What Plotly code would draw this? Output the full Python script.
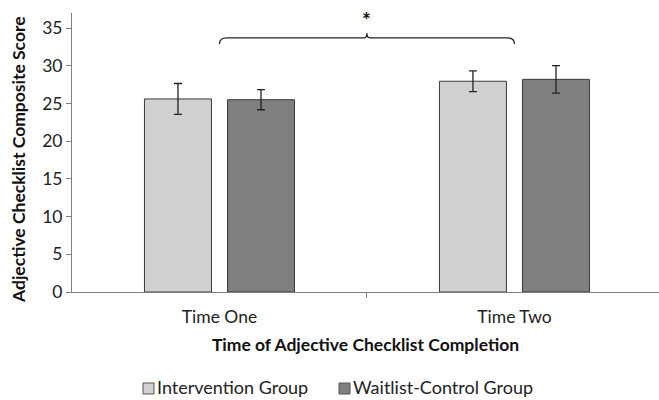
import plotly.graph_objects as go

# Group means and standard errors at each measurement time
categories = ["Time One", "Time Two"]
intervention = [25.6, 27.95]
intervention_err = [2.05, 1.37]
waitlist = [25.5, 28.2]
waitlist_err = [1.33, 1.83]
y_ticks = [0, 5, 10, 15, 20, 25, 30, 35]

group_names = ["Intervention Group", "Waitlist-Control Group"]
group_colors = ["#d0d0d0", "#7f7f7f"]

x_pos = list(range(len(categories)))
FONT = "Lato"
OUTLINE = "#3a3a3a"

W, H = 659, 400
M_L, M_R, M_T, M_B = 72, 0, 13, 108
PW, PH = W - M_L - M_R, H - M_T - M_B


def px_to_paper(px, py):
    return (px - M_L) / PW, (H - M_B - py) / PH


fig = go.Figure()
for name, color, vals, errs in [
    (group_names[0], group_colors[0], intervention, intervention_err),
    (group_names[1], group_colors[1], waitlist, waitlist_err),
]:
    fig.add_trace(go.Bar(
        x=x_pos, y=vals, name=name, showlegend=False,
        marker=dict(color=color, line=dict(color=OUTLINE, width=1)),
        error_y=dict(type="data", array=errs, color="#222222", thickness=1.3, width=4),
    ))

# Significance bracket spanning the two time points
y_br = 33.7
path = (f"M 0,{y_br-0.8} Q 0,{y_br} 0.025,{y_br} "
        f"L 0.49,{y_br} Q 0.5,{y_br} 0.5,{y_br+0.6} Q 0.5,{y_br} 0.51,{y_br} "
        f"L 0.975,{y_br} Q 1,{y_br} 1,{y_br-0.8}")
fig.add_shape(type="path", path=path, xref="x", yref="y",
              line=dict(color="#222222", width=1.3))
fig.add_annotation(x=0.5, y=36.2, text="<b>*</b>", showarrow=False, xref="x", yref="y",
                   font=dict(family=FONT, size=21, color="#111111"))

# Y-axis title
tx, ty = px_to_paper(18, 160)
fig.add_annotation(x=tx, y=ty, xref="paper", yref="paper", showarrow=False,
                   text="<b>Adjective Checklist Composite Score</b>", textangle=-90,
                   xanchor="center", yanchor="middle",
                   font=dict(family=FONT, size=17.5, color="#111111"))

# Legend row below the axis title
legend_boxes = [143, 339]
for name, color, bx in zip(group_names, group_colors, legend_boxes):
    x0, y0 = px_to_paper(bx, 394)
    x1, y1 = px_to_paper(bx + 11, 383)
    fig.add_shape(type="rect", xref="paper", yref="paper", x0=x0, y0=y0, x1=x1, y1=y1,
                  fillcolor=color, line=dict(color="#555555", width=1))
    lx, ly = px_to_paper(bx + 13, 387)
    fig.add_annotation(x=lx, y=ly, xref="paper", yref="paper", showarrow=False,
                       text=name, xanchor="left", yanchor="middle", borderpad=0,
                       font=dict(family=FONT, size=18, color="#222222"))

fig.update_layout(
    width=W, height=H,
    margin=dict(l=M_L, r=M_R, t=M_T, b=M_B, autoexpand=False),
    paper_bgcolor="white", plot_bgcolor="white",
    barmode="group", bargap=0.437, bargroupgap=0.193,
    font=dict(family=FONT, color="#222222"),
    showlegend=False,
)
fig.update_xaxes(
    range=[-0.5, 1.49], automargin=False,
    tickvals=x_pos, ticktext=categories, ticks="",
    tickfont=dict(family=FONT, size=17.5, color="#222222"),
    ticklabelstandoff=9,
    minor=dict(tickvals=[0.5], ticks="outside", ticklen=5, tickcolor="#7f7f7f", tickwidth=1),
    showline=True, linecolor="#7f7f7f", linewidth=1,
    showgrid=False, zeroline=False,
    title=dict(text="<b>Time of Adjective Checklist Completion</b>",
               font=dict(family=FONT, size=17.5, color="#111111"), standoff=12),
)
fig.update_yaxes(
    range=[0, 37], tickvals=y_ticks, automargin=False,
    ticks="outside", ticklen=5, tickcolor="#7f7f7f",
    tickfont=dict(family=FONT, size=17.5, color="#222222"),
    showline=True, linecolor="#7f7f7f", linewidth=1,
    showgrid=False, zeroline=False,
)

fig.write_html("out.html")
